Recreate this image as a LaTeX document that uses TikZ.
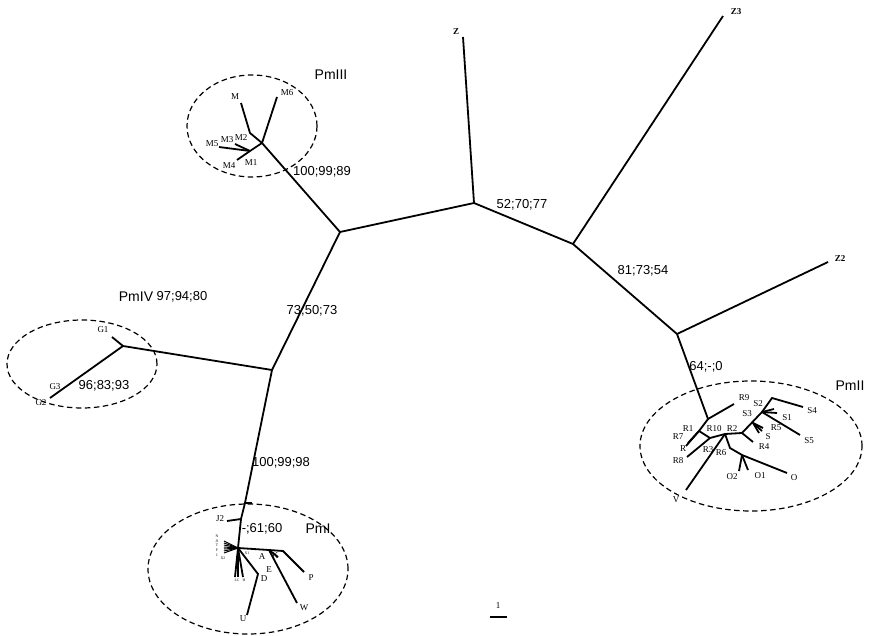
\documentclass[tikz,border=0pt]{standalone}
\usepackage{fontspec}
\setmainfont{Liberation Serif}
\newfontfamily\supfont{Liberation Sans}
\usetikzlibrary{positioning}
\tikzset{
  branch/.style={line width=1.8pt},
  clade/.style={line width=1.2pt, dash pattern=on 5.5pt off 3.5pt},
  boot/.style={font=\supfont\fontsize{13}{13}\selectfont, inner sep=0pt},
  group/.style={font=\supfont\fontsize{14}{14}\selectfont, inner sep=0pt},
  leaf/.style={font=\fontsize{9}{9}\selectfont, inner sep=0pt},
  outleaf/.style={font=\bfseries\fontsize{9}{9}\selectfont, inner sep=0pt},
  tinyleaf/.style={font=\fontsize{3.8}{3.8}\selectfont, inner sep=0pt},
}

\begin{document}
\begin{tikzpicture}[x=1pt, y=-1pt]
\useasboundingbox (0,0) rectangle (875,636);

% backbone
\coordinate (n1) at (340,232);
\coordinate (n2) at (474,203);
\coordinate (n3) at (573,244);
\coordinate (n4) at (677,334);
\coordinate (n5) at (272,370);
\coordinate (z) at (463,37);
\coordinate (z3) at (723,16);
\coordinate (z2) at (828,262);
\draw[branch] (n5) -- (n1) -- (n2) -- (n3) -- (n4);
\draw[branch] (n2) -- (z);
\draw[branch] (n3) -- (z3);
\draw[branch] (n4) -- (z2);
\node[outleaf] (zlab) at (456,32) {Z};
\node[outleaf] (z3lab) at (736,12) {Z3};
\node[outleaf] (z2lab) at (840,259) {Z2};

% PmIII
\coordinate (m0) at (262,143);
\coordinate (m1) at (250,133);
\coordinate (m2) at (250,151);
\coordinate (mm) at (241,103);
\coordinate (mm6) at (277,97);
\coordinate (mm5) at (219,147);
\coordinate (mm3) at (235,144);
\coordinate (mm4) at (237,160);
\draw[branch] (n1) -- (m0) -- (m1) -- (mm);
\draw[branch] (m0) -- (mm6);
\draw[branch] (m0) -- (m2) -- (mm5);
\draw[branch] (m2) -- (mm3);
\draw[branch] (m2) -- (mm4);
\node[leaf] (lm) at (235,97) {M};
\node[leaf] (lm6) at (287,93) {M6};
\node[leaf] (lm2) at (241,138) {M2};
\node[leaf] (lm3) at (227,140) {M3};
\node[leaf] (lm5) at (212,144) {M5};
\node[leaf] (lm4) at (229,166) {M4};
\node[leaf] (lm1) at (251,163) {M1};
\draw[clade] (252,126) ellipse [x radius=65pt, y radius=51pt];
\node[group] (pm3) at (331,75) {PmIII};
\node[boot] (b1) at (322,172) {100;99;89};

% PmIV
\coordinate (g0) at (123,346);
\coordinate (g1) at (112,337);
\coordinate (g2) at (50,398);
\draw[branch] (n5) -- (g0) -- (g1);
\draw[branch] (g0) -- (g2);
\node[leaf] (lg1) at (103,330) {G1};
\node[leaf] (lg3) at (55,387) {G3};
\node[leaf] (lg2) at (41,403) {G2};
\draw[clade] (82,364) ellipse [x radius=75pt, y radius=44pt];
\node[group] (pm4) at (136,297) {PmIV};
\node[boot] (b2) at (182,297) {97;94;80};
\node[boot] (b3) at (104,386) {96;83;93};
\node[boot] (b4) at (312,311) {73;50;73};
\node[boot] (b5) at (281,463) {100;99;98};

% PmI
\coordinate (p0) at (245,503);
\coordinate (j0) at (241,519);
\coordinate (j2) at (227,521);
\coordinate (x0) at (238,548);
\coordinate (a0) at (269,550);
\coordinate (k0) at (283,551);
\coordinate (d0) at (258,574);
\coordinate (pp) at (304,572);
\coordinate (ww) at (297,603);
\coordinate (uu) at (247,615);
\draw[branch] (n5) -- (p0) -- (j0) -- (x0);
\draw[branch] (p0) -- (252,503);
\draw[branch] (j0) -- (j2);
\foreach \yy in {541,543,545,547,549,551,553}
  \draw[line width=1pt] (x0) -- (224,\yy);
\draw[branch] (x0) -- (a0) -- (k0) -- (pp);
\draw[branch] (a0) -- (ww);
\draw[branch] (a0) -- (278,557);
\draw[branch] (x0) -- (235,577);
\draw[branch] (x0) -- (238,577);
\draw[branch] (x0) -- (243,577);
\draw[branch] (x0) -- (d0) -- (uu);
\node[leaf] (lj2) at (220,519) {J2};
\node[tinyleaf] (ln) at (217,536) {N};
\node[tinyleaf] (lj1) at (217,541) {J1};
\node[tinyleaf] (lt) at (217,545) {T};
\node[tinyleaf] (lf) at (217,550) {F};
\node[tinyleaf] (li) at (217,555) {I};
\node[tinyleaf] (lx2) at (223,558) {X2};
\node[tinyleaf] (lx1) at (247,553) {X1};
\node[tinyleaf] (llc) at (237,580) {LC};
\node[tinyleaf] (lh) at (244,580) {H};
\node[leaf] (la) at (262,557) {A};
\node[leaf] (lk) at (275,556) {K};
\node[leaf] (le) at (269,570) {E};
\node[leaf] (ld) at (264,579) {D};
\node[leaf] (lp) at (311,578) {P};
\node[leaf] (lw) at (304,608) {W};
\node[leaf] (lu) at (243,619) {U};
\draw[clade] (248,569) ellipse [x radius=100pt, y radius=65pt];
\node[group] (pm1) at (318,529) {PmI};
\node[boot] (b6) at (262,529) {-;61;60};

% PmII
\coordinate (r0) at (708,419);
\coordinate (r1) at (699,431);
\coordinate (r4) at (710,438);
\coordinate (r2) at (725,434);
\coordinate (r3) at (742,433);
\coordinate (s0) at (762,412);
\coordinate (s1) at (772,398);
\coordinate (o0) at (730,448);
\coordinate (o1) at (742,455);
\draw[branch] (n4) -- (r0) -- (734,404);
\draw[branch] (r0) -- (r1) -- (688,443);
\draw[branch] (r1) -- (686,446);
\draw[branch] (r1) -- (r4) -- (r2);
\draw[branch] (r4) -- (687,457);
\draw[branch] (r2) -- (686,490);
\draw[branch] (r2) -- (r3) -- (753,442);
\draw[branch] (r3) -- (s0) -- (s1) -- (803,407);
\draw[branch] (s0) -- (800,435);
\draw[branch] (s0) -- (777,413);
\draw[branch] (s0) -- (774,409);
\draw[branch] (753,423) -- (763,428);
\draw[branch] (753,423) -- (762,431);
\draw[branch] (753,423) -- (759,433);
\draw[branch] (r2) -- (o0) -- (o1) -- (787,473);
\draw[branch] (o1) -- (739,471);
\draw[branch] (o1) -- (748,470);
\node[leaf] (lr9) at (744,398) {R9};
\node[leaf] (ls2) at (758,404) {S2};
\node[leaf] (ls4) at (812,411) {S4};
\node[leaf] (ls3) at (747,414) {S3};
\node[leaf] (ls1) at (787,418) {S1};
\node[leaf] (lr1) at (688,429) {R1};
\node[leaf] (lr10) at (714,429) {R10};
\node[leaf] (lr2) at (732,429) {R2};
\node[leaf] (lr5) at (776,428) {R5};
\node[leaf] (lr7) at (678,437) {R7};
\node[leaf] (ls) at (768,437) {S};
\node[leaf] (lr4) at (764,447) {R4};
\node[leaf] (ls5) at (809,441) {S5};
\node[leaf] (lr) at (683,449) {R};
\node[leaf] (lr3) at (708,450) {R3};
\node[leaf] (lr6) at (721,453) {R6};
\node[leaf] (lr8) at (678,461) {R8};
\node[leaf] (lo2) at (732,477) {O2};
\node[leaf] (lo1) at (760,476) {O1};
\node[leaf] (lo) at (794,478) {O};
\node[leaf] (lv) at (676,500) {V};
\draw[clade] (751,446) ellipse [x radius=111pt, y radius=65pt];
\node[group] (pm2) at (850,386) {PmII};
\node[boot] (b7) at (522,205) {52;70;77};
\node[boot] (b8) at (643,271) {81;73;54};
\node[boot] (b9) at (706,367) {64;-;0};

% scale
\coordinate (sc1) at (490,617);
\coordinate (sc2) at (507,617);
\draw[line width=1.2pt] (sc1) -- (sc2);
\node[leaf] (sclab) at (498,606) {1};
\end{tikzpicture}
\end{document}
